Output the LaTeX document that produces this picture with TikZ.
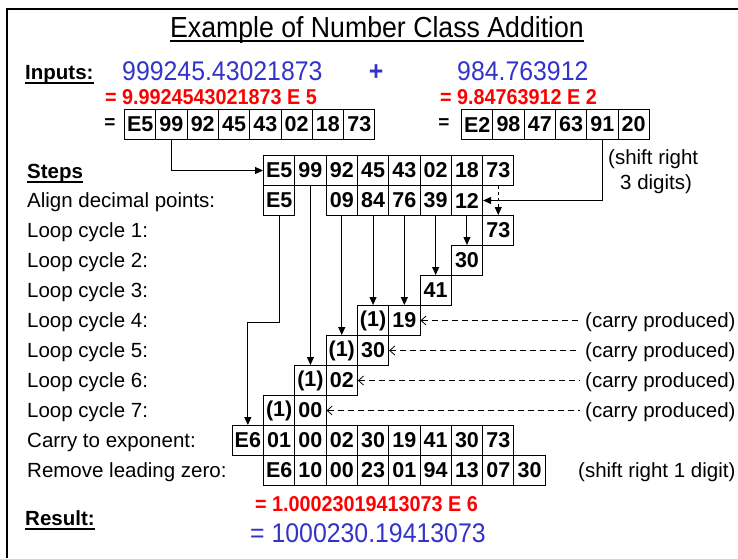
\documentclass[tikz,border=0pt]{standalone}
\usepackage{fontspec}
\setmainfont{Liberation Sans}
\newfontfamily\narrowfont{Liberation Sans}[FakeStretch=0.92]
\usetikzlibrary{arrows.meta}
\definecolor{numblue}{RGB}{51,51,204}
\definecolor{numred}{RGB}{255,0,0}
\newcommand\fsreg{\fontsize{20.5}{24}\selectfont}
\newcommand\fsbig{\narrowfont\fontsize{27}{30}\selectfont}
\newcommand\gcell[4]{\node[cell] (#1) at ({231.7+31.3*#2},#3) {#4};}
\begin{document}
\begin{tikzpicture}[x=1pt,y=-1pt,
  cell/.style={draw, line width=1pt, minimum width=31.3pt, minimum height=30pt, inner sep=0pt, anchor=north west, font=\fontsize{21.5}{22}\selectfont\bfseries},
  lbl/.style={anchor=base west, inner sep=0pt, font=\fsreg},
  arr/.style={line width=1pt, -{Triangle[length=8pt,width=7pt]}},
  darr/.style={line width=0.8pt, dash pattern=on 3pt off 3pt, -{Triangle[length=8pt,width=7pt]}},
  carryarr/.style={line width=0.8pt, dash pattern=on 6pt off 4pt, {Straight Barb[length=5pt,width=9pt]}-},
  ul/.style={line width=1.5pt}
]
\useasboundingbox (0,0) rectangle (738,558);
\fill[white] (0,0) rectangle (738,558);
\draw[line width=2pt] (7,558) -- (7,9) -- (738,9);

% title
\node[lbl, font=\narrowfont\fontsize{29}{32}\selectfont, anchor=base] (title) at (377,37) {Example of Number Class Addition};
\draw[ul] ([yshift=-4pt]title.base west) -- ([yshift=-4pt]title.base east);

% inputs
\node[lbl, font=\fsreg\bfseries] (inp) at (25,79) {Inputs:};
\draw[ul] ([yshift=-4pt]inp.base west) -- ([yshift=-4pt]inp.base east);
\node[lbl, font=\fsbig, text=numblue] (n1) at (122,80) {999245.43021873};
\node[anchor=base, inner sep=0pt, font=\fsbig\bfseries, text=numblue] (plus) at (376,80) {+};
\node[lbl, font=\fsbig, text=numblue] (n2) at (457,80) {984.763912};
\node[lbl, font=\narrowfont\fontsize{21.5}{24}\selectfont\bfseries, text=numred] (e1) at (105,104) {= 9.9924543021873 E 5};
\node[lbl, font=\narrowfont\fontsize{21.5}{24}\selectfont\bfseries, text=numred] (e2) at (440,104) {= 9.84763912 E 2};

\node[font=\fontsize{19}{20}\selectfont\bfseries, inner sep=0pt] (eq1) at (110,124) {=};
\node[font=\fontsize{19}{20}\selectfont\bfseries, inner sep=0pt] (eq2) at (444,124) {=};
\foreach \t [count=\k from 0] in {E5,99,92,45,43,02,18,73}
  {\node[cell] (i\k) at ({124+31.3*\k},109) {\t};}
\foreach \t [count=\k from 0] in {E2,98,47,63,91,20}
  {\node[cell] (j\k) at ({461+31.3*\k},109) {\t};}

\node[lbl] (sh3a) at (608,164) {(shift right};
\node[lbl] (sh3b) at (620,189) {3 digits)};

% steps
\node[lbl, font=\fsreg\bfseries] (steps) at (27,178) {Steps};
\draw[ul] ([yshift=-4pt]steps.base west) -- ([yshift=-4pt]steps.base east);
\node[lbl] (s0) at (27,207.5) {Align decimal points:};
\node[lbl] (s1) at (27,237.5) {Loop cycle 1:};
\node[lbl] (s2) at (27,267.5) {Loop cycle 2:};
\node[lbl] (s3) at (27,297.5) {Loop cycle 3:};
\node[lbl] (s4) at (27,327.5) {Loop cycle 4:};
\node[lbl] (s5) at (27,357.5) {Loop cycle 5:};
\node[lbl] (s6) at (27,387.5) {Loop cycle 6:};
\node[lbl] (s7) at (27,417.5) {Loop cycle 7:};
\node[lbl] (s8) at (27,447.5) {Carry to exponent:};
\node[lbl] (s9) at (27,477.5) {Remove leading zero:};

% grid
\foreach \t [count=\k from 1] in {E5,99,92,45,43,02,18,73}
  {\node[cell] (t\k) at ({231.7+31.3*\k},155) {\t};}
\gcell{a1}{1}{185}{E5}
\gcell{a3}{3}{185}{09}
\gcell{a4}{4}{185}{84}
\gcell{a5}{5}{185}{76}
\gcell{a6}{6}{185}{39}
\gcell{a7}{7}{185}{12}
\gcell{l1}{8}{215}{73}
\gcell{l2}{7}{245}{30}
\gcell{l3}{6}{275}{41}
\gcell{l4a}{4}{305}{(1)}
\gcell{l4b}{5}{305}{19}
\gcell{l5a}{3}{335}{(1)}
\gcell{l5b}{4}{335}{30}
\gcell{l6a}{2}{365}{(1)}
\gcell{l6b}{3}{365}{02}
\gcell{l7a}{1}{395}{(1)}
\gcell{l7b}{2}{395}{00}
\foreach \t [count=\k from 0] in {E6,01,00,02,30,19,41,30,73}
  {\node[cell] (c\k) at ({231.7+31.3*\k},425) {\t};}
\foreach \t [count=\k from 1] in {E6,10,00,23,01,94,13,07,30}
  {\node[cell] (r\k) at ({231.7+31.3*\k},455) {\t};}

% carry texts
\foreach \n/\y in {4/335.5,5/365.5,6/395.5,7/425.5}
  {\node[lbl, inner xsep=5pt] (cp\n) at (580,{\y-8}) {(carry produced)};}
\draw[carryarr] (l4b.east) -- (cp4.west |- l4b.east);
\draw[carryarr] (l5b.east) -- (cp5.west |- l5b.east);
\draw[carryarr] (l6b.east) -- (cp6.west |- l6b.east);
\draw[carryarr] (l7b.east) -- (cp7.west |- l7b.east);
\node[lbl] (sh1) at (578,477.5) {(shift right 1 digit)};

% arrows
\draw[arr] (i1.south) |- (t1.west);
\draw[arr] (j4.south) |- (a7.east);
\draw[darr] (t8.south) -- (l1.north);
\draw[arr] (a7.south) -- (l2.north);
\draw[arr] (a6.south) -- (l3.north);
\draw[arr] (a5.south) -- (l4b.north);
\draw[arr] (a4.south) -- (l4a.north);
\draw[arr] (a3.south) -- (l5a.north);
\draw[arr] (t2.south) -- (l6a.north);
\path (a1.south) ++(0,106) coordinate (bend);
\draw[arr] (a1.south) -- (bend) -| (c0.north);

% result
\node[lbl, font=\fsreg\bfseries] (res) at (25,525) {Result:};
\draw[ul] ([yshift=-4pt]res.base west) -- ([yshift=-4pt]res.base east);
\node[lbl, font=\narrowfont\fontsize{21.5}{24}\selectfont\bfseries, text=numred] (e3) at (255,511) {= 1.00023019413073 E 6};
\node[lbl, font=\fsbig, text=numblue] (n3) at (250,542) {= 1000230.19413073};
\end{tikzpicture}
\end{document}
